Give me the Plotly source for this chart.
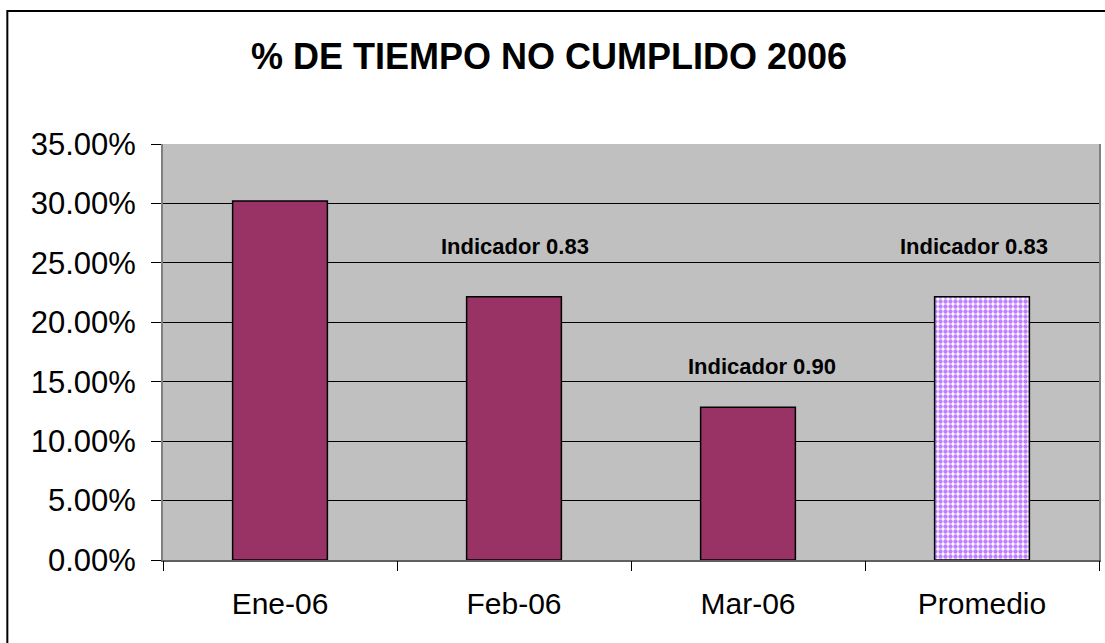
import plotly.graph_objects as go

# Data
categories = ["Ene-06", "Feb-06", "Mar-06", "Promedio"]
pct_not_met = [30.2, 22.15, 12.85, 22.15]
indicator_labels = ["", "Indicador 0.83", "Indicador 0.90", "Indicador 0.83"]
indicator_y = [0, 26.4, 16.3, 26.4]
y_ticks = [0, 5, 10, 15, 20, 25, 30, 35]
y_tick_text = ["%.2f%%" % v for v in y_ticks]

FONT = "Liberation Sans, Arial, sans-serif"
PLUM = "#993366"
LAVENDER = "#BF7FFF"
label_shift = [0, 1, 14, -8]

fig = go.Figure()
# monthly bars
fig.add_trace(go.Bar(
    x=categories[:3],
    y=pct_not_met[:3],
    marker=dict(color=PLUM, line=dict(color="black", width=1.5)),
    width=0.405,
    hoverinfo="skip",
))
# average bar, checkered lavender
fig.add_trace(go.Bar(
    x=categories[3:],
    y=pct_not_met[3:],
    marker=dict(
        color="#FFFFFF",
        line=dict(color="black", width=1.5),
        pattern=dict(shape=".", fgcolor=LAVENDER, bgcolor="#FFFFFF",
                     size=5, solidity=0.6, fillmode="replace"),
    ),
    width=0.405,
    hoverinfo="skip",
))

for cat, lab, yy, dx in zip(categories, indicator_labels, indicator_y, label_shift):
    if lab:
        fig.add_annotation(
            x=cat, y=yy, text="<b>%s</b>" % lab, showarrow=False,
            font=dict(family=FONT, size=22, color="black"),
            xanchor="center", yanchor="middle", xshift=dx,
        )

fig.update_layout(
    width=1105,
    height=643,
    margin=dict(l=163, r=4, t=144, b=83),
    paper_bgcolor="white",
    plot_bgcolor="#C0C0C0",
    showlegend=False,
    barmode="overlay",
    font=dict(family=FONT, color="black"),
    title=dict(
        text="<b>% DE TIEMPO NO CUMPLIDO 2006</b>",
        x=549 / 1105, xref="container", xanchor="center",
        y=1 - 56 / 643, yanchor="middle",
        font=dict(family=FONT, size=36, color="black"),
    ),
)

fig.update_xaxes(
    categoryorder="array", categoryarray=categories,
    showgrid=False,
    showline=True, linecolor="#606060", linewidth=2,
    ticks="", tickfont=dict(family=FONT, size=30, color="black"),
    ticklabelstandoff=16,
)
# tick marks between categories on the x axis
fig.add_trace(go.Scatter(
    x=[0.5, 1.5, 2.5, 3.5], y=[0, 0, 0, 0], xaxis="x2", mode="markers",
    marker=dict(opacity=0), hoverinfo="skip",
))
fig.update_layout(xaxis2=dict(
    overlaying="x", range=[-0.5, 3.5], showgrid=False, showline=False,
    tickvals=[-0.5, 0.5, 1.5, 2.5, 3.5], ticktext=[""] * 5,
    ticks="outside", ticklen=10, tickcolor="black", tickwidth=1,
    side="bottom", anchor="y", zeroline=False,
))

fig.update_yaxes(
    range=[0, 35],
    tickvals=y_ticks, ticktext=y_tick_text,
    showgrid=True, gridcolor="#000000", gridwidth=1,
    showline=True, linecolor="#808080", linewidth=2, mirror=True,
    ticks="outside", ticklen=10, tickcolor="black",
    tickfont=dict(family=FONT, size=31, color="black"),
    ticklabelstandoff=9,
    zeroline=False,
)

# outer chart border
fig.add_shape(
    type="rect", xref="paper", yref="paper",
    x0=(7 - 163) / 938, x1=(1120 - 163) / 938,
    y0=(560 - 660) / 416, y1=(560 - 11) / 416,
    line=dict(color="black", width=2), fillcolor="rgba(0,0,0,0)",
    layer="below",
)

fig.write_html(
    "out.html",
    config={"displayModeBar": False},
    post_script="document.body.style.margin='0';",
)
